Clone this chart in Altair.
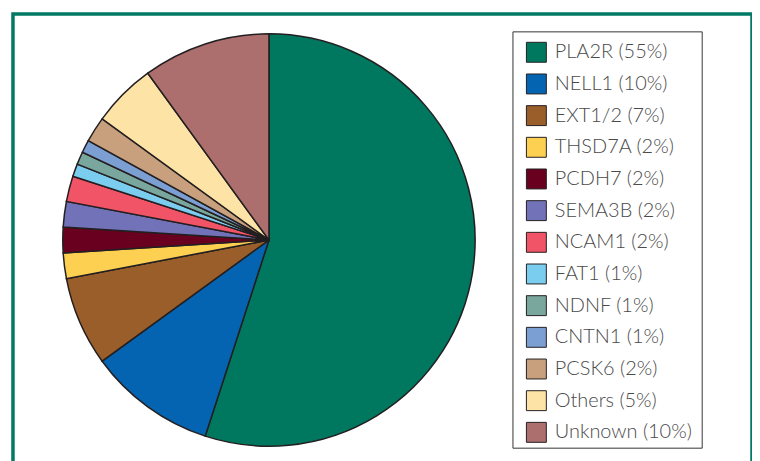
import altair as alt
import pandas as pd

labels = ["PLA2R", "NELL1", "EXT1/2", "THSD7A", "PCDH7", "SEMA3B", "NCAM1",
          "FAT1", "NDNF", "CNTN1", "PCSK6", "Others", "Unknown"]
values = [55, 10, 7, 2, 2, 2, 2, 1, 1, 1, 2, 5, 10]
colors = ["#00775f", "#0564b1", "#9a5e2b", "#fed052", "#6a0020", "#7172b8", "#f05466",
          "#7bcdf0", "#79a79d", "#7c9fd3", "#c8a07d", "#fee3a7", "#ad6f6e"]

legend_labels = [f"{l} ({v}%)" for l, v in zip(labels, values)]
df = pd.DataFrame({"name": legend_labels, "value": values, "order": list(range(len(values)))})

box = alt.Chart(pd.DataFrame({"k": [0]})).mark_rect(
    fill="white", stroke="#333333", strokeWidth=1
).encode(
    x=alt.value(502), x2=alt.value(692), y=alt.value(18), y2=alt.value(436)
)

pie = alt.Chart(df).mark_arc(stroke="#231f20", strokeWidth=1.5, outerRadius=207).encode(
    theta=alt.Theta("value:Q", stack=True),
    order=alt.Order("order:Q", sort="ascending"),
    color=alt.Color(
        "name:N",
        scale=alt.Scale(domain=legend_labels, range=colors),
        legend=alt.Legend(
            title=None,
            orient="none",
            legendX=515,
            legendY=28,
            padding=0,
            symbolType="square",
            symbolSize=400,
            symbolStrokeColor="#231f20",
            symbolStrokeWidth=1,
            symbolOpacity=1,
            labelFont="Lato",
            labelFontWeight=300,
            labelFontSize=20,
            labelColor="#4a4a4a",
            labelOffset=8,
            rowPadding=6.8,
            labelLimit=300,
        ),
    ),
    x=alt.value(257),
    y=alt.value(227),
)

chart = alt.layer(box, pie).properties(
    width=742,
    height=470,
    padding={"left": 5, "top": 5, "right": 0, "bottom": 0},
    autosize=alt.AutoSizeParams(type="none"),
).configure_view(
    stroke="#007a65",
    strokeWidth=3.5,
)

chart.save("out.html", embed_options={"renderer": "svg", "actions": False})
